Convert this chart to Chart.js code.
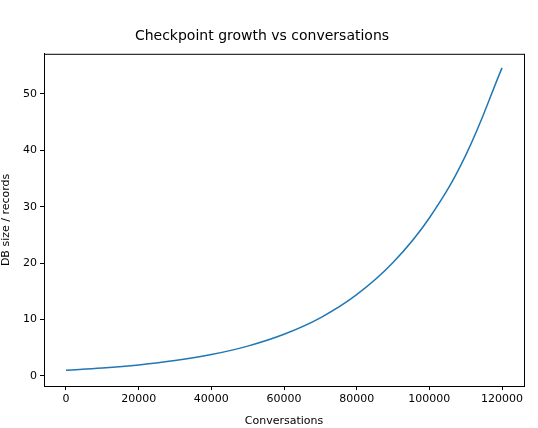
<!DOCTYPE html>
<html><head><script src="https://cdn.jsdelivr.net/npm/chart.js@4"></script>
<style>body{margin:0;background:#fff}</style></head>
<body><div style="width:538px;height:428px"><canvas id="c"></canvas></div>
<script>
const conversations=[0,10000,20000,30000,40000,50000,60000,70000,80000,90000,100000,110000,120000];
const dbSize=[1.0,1.40,1.95,2.72,3.79,5.29,7.39,10.3,14.4,20.1,28.0,39.1,54.6];
const xTicks=[0,20000,40000,60000,80000,100000,120000];
const yTicks=[0,10,20,30,40,50];
const frame={id:'frame',afterDraw(c){const a=c.chartArea,x=c.ctx;x.save();x.strokeStyle='#000';x.lineWidth=1;x.strokeRect(a.left+0.5,a.top+0.5,a.right-a.left,a.bottom-a.top);x.restore();}};
new Chart(document.getElementById('c'),{type:'line',
data:{datasets:[{data:conversations.map((v,i)=>({x:v,y:dbSize[i]})),borderColor:'#1f77b4',borderWidth:1.5,pointRadius:0,tension:0.4,fill:false}]},
options:{responsive:true,maintainAspectRatio:false,animation:false,
layout:{padding:{left:0,right:14,top:0,bottom:0}},
plugins:{legend:{display:false},tooltip:{enabled:false},
title:{display:true,text:'Checkpoint growth vs conversations',color:'#000',font:{family:'DejaVu Sans',size:14,weight:'normal'},padding:{top:28,bottom:9}}},
scales:{
x:{type:'linear',min:-6055,max:126055,afterFit(s){s.height=42;},
afterBuildTicks(s){s.ticks=xTicks.map(v=>({value:v}));},
ticks:{color:'#000',font:{family:'DejaVu Sans',size:11},maxRotation:0,autoSkip:false,callback:v=>String(v)},
grid:{drawOnChartArea:false,drawTicks:true,tickLength:4,color:'#000'},border:{color:'#000'},
title:{display:true,text:'Conversations',color:'#000',font:{family:'DejaVu Sans',size:11},padding:0}},
y:{min:-1.78,max:57.1,afterFit(s){s.width=44;},
afterBuildTicks(s){s.ticks=yTicks.map(v=>({value:v}));},
ticks:{color:'#000',font:{family:'DejaVu Sans',size:11},autoSkip:false,callback:v=>String(v)},
grid:{drawOnChartArea:false,drawTicks:true,tickLength:4,color:'#000'},border:{color:'#000'},
title:{display:true,text:'DB size / records',color:'#000',font:{family:'DejaVu Sans',size:11},padding:0}}}},
plugins:[frame]});
</script></body></html>
